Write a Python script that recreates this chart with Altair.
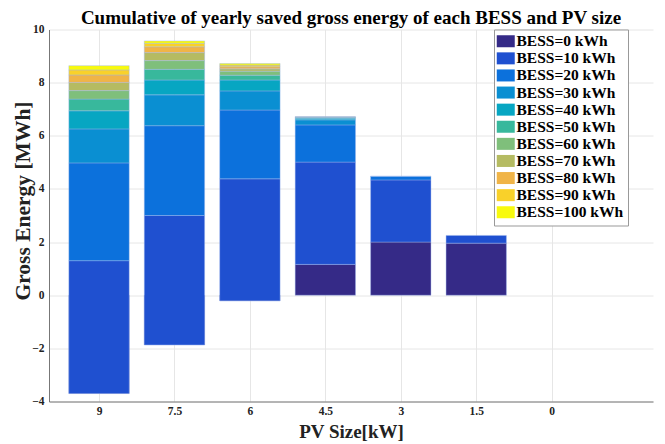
import altair as alt
import pandas as pd

pv_labels = ["9", "7.5", "6", "4.5", "3", "1.5", "0"]
bess_labels = ["BESS=0 kWh", "BESS=10 kWh", "BESS=20 kWh", "BESS=30 kWh", "BESS=40 kWh",
               "BESS=50 kWh", "BESS=60 kWh", "BESS=70 kWh", "BESS=80 kWh", "BESS=90 kWh",
               "BESS=100 kWh"]
bess_colors = ["#352a87", "#1f50d0", "#0c71dc", "#0a8fd2", "#07a6c2", "#38b89c",
               "#7fbf7b", "#b5bb62", "#f0b447", "#f9d12a", "#f8fa0d"]

# Increment contributed by each BESS size, per PV size (9, 7.5, 6, 4.5, 3, 1.5, 0)
b0 = [-3.70, -1.87, -0.21, 1.16, 2.00, 1.96, 0.0]
b10 = [5.00, 4.87, 4.59, 3.85, 2.34, 0.29, 0.0]
b20 = [3.68, 3.38, 2.59, 1.40, 0.13, 0.0, 0.0]
b30 = [1.28, 1.16, 0.72, 0.19, 0.01, 0.0, 0.0]
b40 = [0.68, 0.56, 0.41, 0.06, 0.0, 0.0, 0.0]
b50 = [0.44, 0.40, 0.18, 0.03, 0.0, 0.0, 0.0]
b60 = [0.32, 0.33, 0.15, 0.02, 0.0, 0.0, 0.0]
b70 = [0.31, 0.30, 0.09, 0.01, 0.0, 0.0, 0.0]
b80 = [0.28, 0.22, 0.08, 0.0, 0.0, 0.0, 0.0]
b90 = [0.19, 0.13, 0.06, 0.0, 0.0, 0.0, 0.0]
b100 = [0.16, 0.09, 0.06, 0.0, 0.0, 0.0, 0.0]

series = [b0, b10, b20, b30, b40, b50, b60, b70, b80, b90, b100]

rows = []
for j, pv in enumerate(pv_labels):
    base = 0.0
    for i, s in enumerate(series):
        rows.append({"pos": j + 1, "pv": pv, "bess": bess_labels[i], "k": i,
                     "start": base, "end": base + s[j]})
        base += s[j]
df = pd.DataFrame(rows).sort_values(["k", "pos"]).reset_index(drop=True)

serif = "Liberation Serif"
label_expr = "[" + ",".join("'" + l + "'" for l in pv_labels) + "][datum.value - 1]"

chart = alt.Chart(df).transform_filter(
    "datum.end != datum.start"
).transform_calculate(
    x0="datum.pos - 0.4", x1="datum.pos + 0.4"
).mark_bar(stroke="#9fb7ee", strokeWidth=0.6, strokeOpacity=0.7).encode(
    x=alt.X("x0:Q", scale=alt.Scale(domain=[0.337, 8.343], nice=False, zero=False),
            axis=alt.Axis(values=list(range(1, len(pv_labels) + 1)), labelExpr=label_expr,
                          title="PV Size[kW]", grid=True, ticks=False, labelPadding=4,
                          titlePadding=5, titleFontSize=19)),
    x2="x1:Q",
    y=alt.Y("start:Q", scale=alt.Scale(domain=[-4, 10], nice=False),
            axis=alt.Axis(values=list(range(-4, 11, 2)), title="Gross Energy [MWh]",
                          grid=True, ticks=False, labelPadding=5, titlePadding=-3,
                          titleFontSize=21.5, titleY=171)),
    y2="end:Q",
    color=alt.Color("bess:N", scale=alt.Scale(domain=bess_labels, range=bess_colors),
                    legend=alt.Legend(title=None, orient="none", legendX=445, legendY=0,
                                      symbolType="M-1.5,-1H1.5V1H-1.5Z", symbolSize=144,
                                      symbolStrokeWidth=0, labelFont=serif,
                                      labelFontWeight="bold", labelFontSize=15.5,
                                      labelColor="#000", rowPadding=0.1, padding=4,
                                      labelOffset=3,
                                      strokeColor="#999", fillColor="white",
                                      symbolOpacity=1, labelLimit=200)),
).properties(
    width=604, height=372,
    title=alt.Title("Cumulative of yearly saved gross energy of each BESS and PV size",
                    font=serif, fontSize=19, fontWeight="bold", anchor="middle",
                    color="#000", offset=-4),
    autosize=alt.AutoSizeParams(type="none"),
    padding={"left": 41, "top": 21.5, "right": 4, "bottom": 40},
).configure_axis(
    labelFont=serif, labelFontWeight="bold", labelFontSize=11.5, labelColor="#222",
    titleFont=serif, titleFontWeight="bold", titleColor="#222",
    domainColor="#777", gridColor="#e6e6e6",
).configure_view(stroke=None)

chart.save("out.html", embed_options={"renderer": "svg", "actions": False})
